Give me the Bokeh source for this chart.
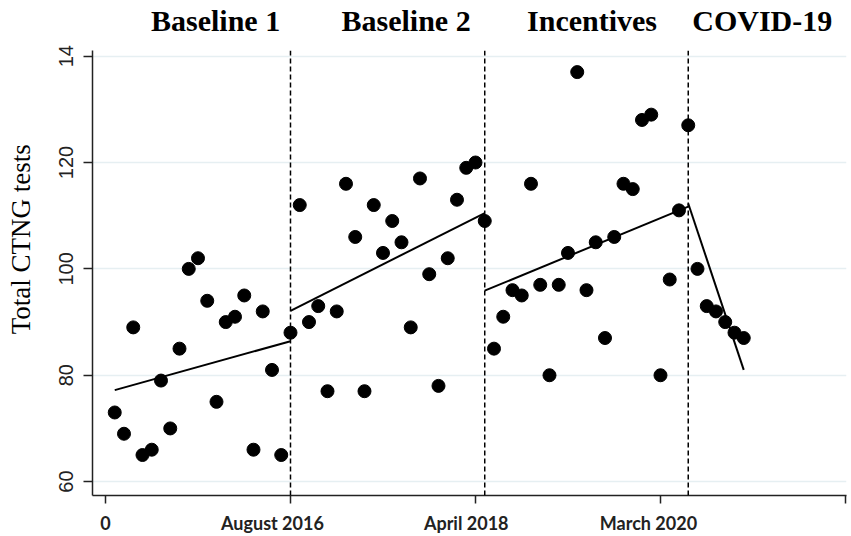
from bokeh.plotting import figure
from bokeh.models import Range1d, FixedTicker, Span, LinearAxis
from bokeh.embed import file_html
from bokeh.resources import INLINE

# ---------------- data ----------------
months = list(range(1, 70))
tests = [73, 69, 89, 65, 66, 79, 70, 85, 100, 102, 94, 75, 90, 91, 95, 66, 92, 81, 65, 88,
         112, 90, 93, 77, 92, 116, 106, 77, 112, 103, 109, 105, 89, 117, 99, 78, 102, 113, 119, 120, 109,
         85, 91, 96, 95, 116, 97, 80, 97, 103, 137, 96, 105, 87, 106, 116, 115, 128, 129, 80, 98, 111, 127,
         100, 93, 92, 90, 88, 87]

trend_x = [[1, 20], [20, 41], [41, 63], [63, 69]]
trend_y = [[77.2, 86.4], [92.1, 110.5], [95.9, 111.7], [112.3, 81.0]]

breaks = [20, 41, 63]
period_titles = ["Baseline 1", "Baseline 2", "Incentives", "COVID-19"]
date_labels = ["0", "August 2016", "April 2018", "March 2020"]
x_ticks = [0, 20, 40, 60, 80]
y_ticks = [60, 80, 100, 120, 140]
y_tick_labels = ["60", "80", "100", "120", "14"]
y_title = "Total CTNG tests"

# ---------------- layout constants ----------------
title_pos = [11.9, 32.5, 52.6, 71.0]
date_pos = [0, 18.05, 39.0, 58.7]
y_title_shift = "\u00a0" * 10   # moves the rotated axis title upwards, as in the reference

p = figure(width=851, height=536, output_backend="svg", toolbar_location=None,
           x_range=Range1d(-1.405, 80.11), y_range=Range1d(57.39, 141.06),
           min_border_left=92, min_border_right=5, min_border_top=50, min_border_bottom=38)
p.outline_line_color = None
p.background_fill_color = "white"
p.border_fill_color = "white"

p.xgrid.grid_line_color = None
p.ygrid.grid_line_color = "#e6eff2"
p.ygrid.grid_line_width = 1.5

# x axis (ticks only)
p.xaxis.ticker = FixedTicker(ticks=x_ticks)
p.xaxis.minor_tick_line_color = None
p.xaxis.major_tick_out = 8
p.xaxis.major_tick_in = 0
p.xaxis.axis_line_width = 1.5
p.xaxis.major_tick_line_width = 1.5
p.xaxis.axis_line_color = "#222222"
p.xaxis.major_tick_line_color = "#222222"
p.xaxis.major_label_text_font_size = "1px"
p.xaxis.major_label_text_alpha = 0
p.xaxis.major_label_standoff = 0

# x tick labels (second axis below, no line, no ticks)
lab_axis = LinearAxis(ticker=FixedTicker(ticks=date_pos),
                      major_label_overrides={t: l for t, l in zip(date_pos, date_labels)},
                      axis_line_color=None, major_tick_line_color=None, minor_tick_line_color=None,
                      major_label_text_font="Lato", major_label_text_font_style="bold",
                      major_label_text_font_size="18px", major_label_text_color="#222222",
                      major_label_standoff=2)
p.add_layout(lab_axis, "below")

# period titles (axis above, no line, no ticks)
top_axis = LinearAxis(ticker=FixedTicker(ticks=title_pos),
                      major_label_overrides={t: l for t, l in zip(title_pos, period_titles)},
                      axis_line_color=None, major_tick_line_color=None, minor_tick_line_color=None,
                      major_label_text_font="Liberation Serif", major_label_text_font_style="bold",
                      major_label_text_font_size="30px", major_label_text_color="black",
                      major_label_standoff=8)
p.add_layout(top_axis, "above")

# y axis
p.yaxis.ticker = FixedTicker(ticks=y_ticks)
p.yaxis.major_label_overrides = {t: l for t, l in zip(y_ticks, y_tick_labels)}
p.yaxis.minor_tick_line_color = None
p.yaxis.major_tick_out = 9
p.yaxis.major_tick_in = 0
p.yaxis.axis_line_width = 1.5
p.yaxis.major_tick_line_width = 1.5
p.yaxis.axis_line_color = "#222222"
p.yaxis.major_tick_line_color = "#222222"
p.yaxis.major_label_orientation = "vertical"
p.yaxis.major_label_text_font = "Liberation Sans"
p.yaxis.major_label_text_font_size = "20px"
p.yaxis.major_label_text_color = "#222222"
p.yaxis.major_label_standoff = 10
p.yaxis.axis_label = y_title_shift + y_title
p.yaxis.axis_label_text_font = "Liberation Serif"
p.yaxis.axis_label_text_font_style = "normal"
p.yaxis.axis_label_text_font_size = "27px"
p.yaxis.axis_label_text_color = "black"
p.yaxis.axis_label_standoff = 21

# break lines
for b in breaks:
    p.add_layout(Span(location=b, dimension="height", line_color="black",
                      line_width=1.5, line_dash="5 3"))

# trend lines
p.multi_line(xs=trend_x, ys=trend_y, line_color="black", line_width=2)

# points
p.scatter(months, tests, size=13, marker="circle", fill_color="black", line_color="black")

open("out.html", "w").write(file_html(p, INLINE))
